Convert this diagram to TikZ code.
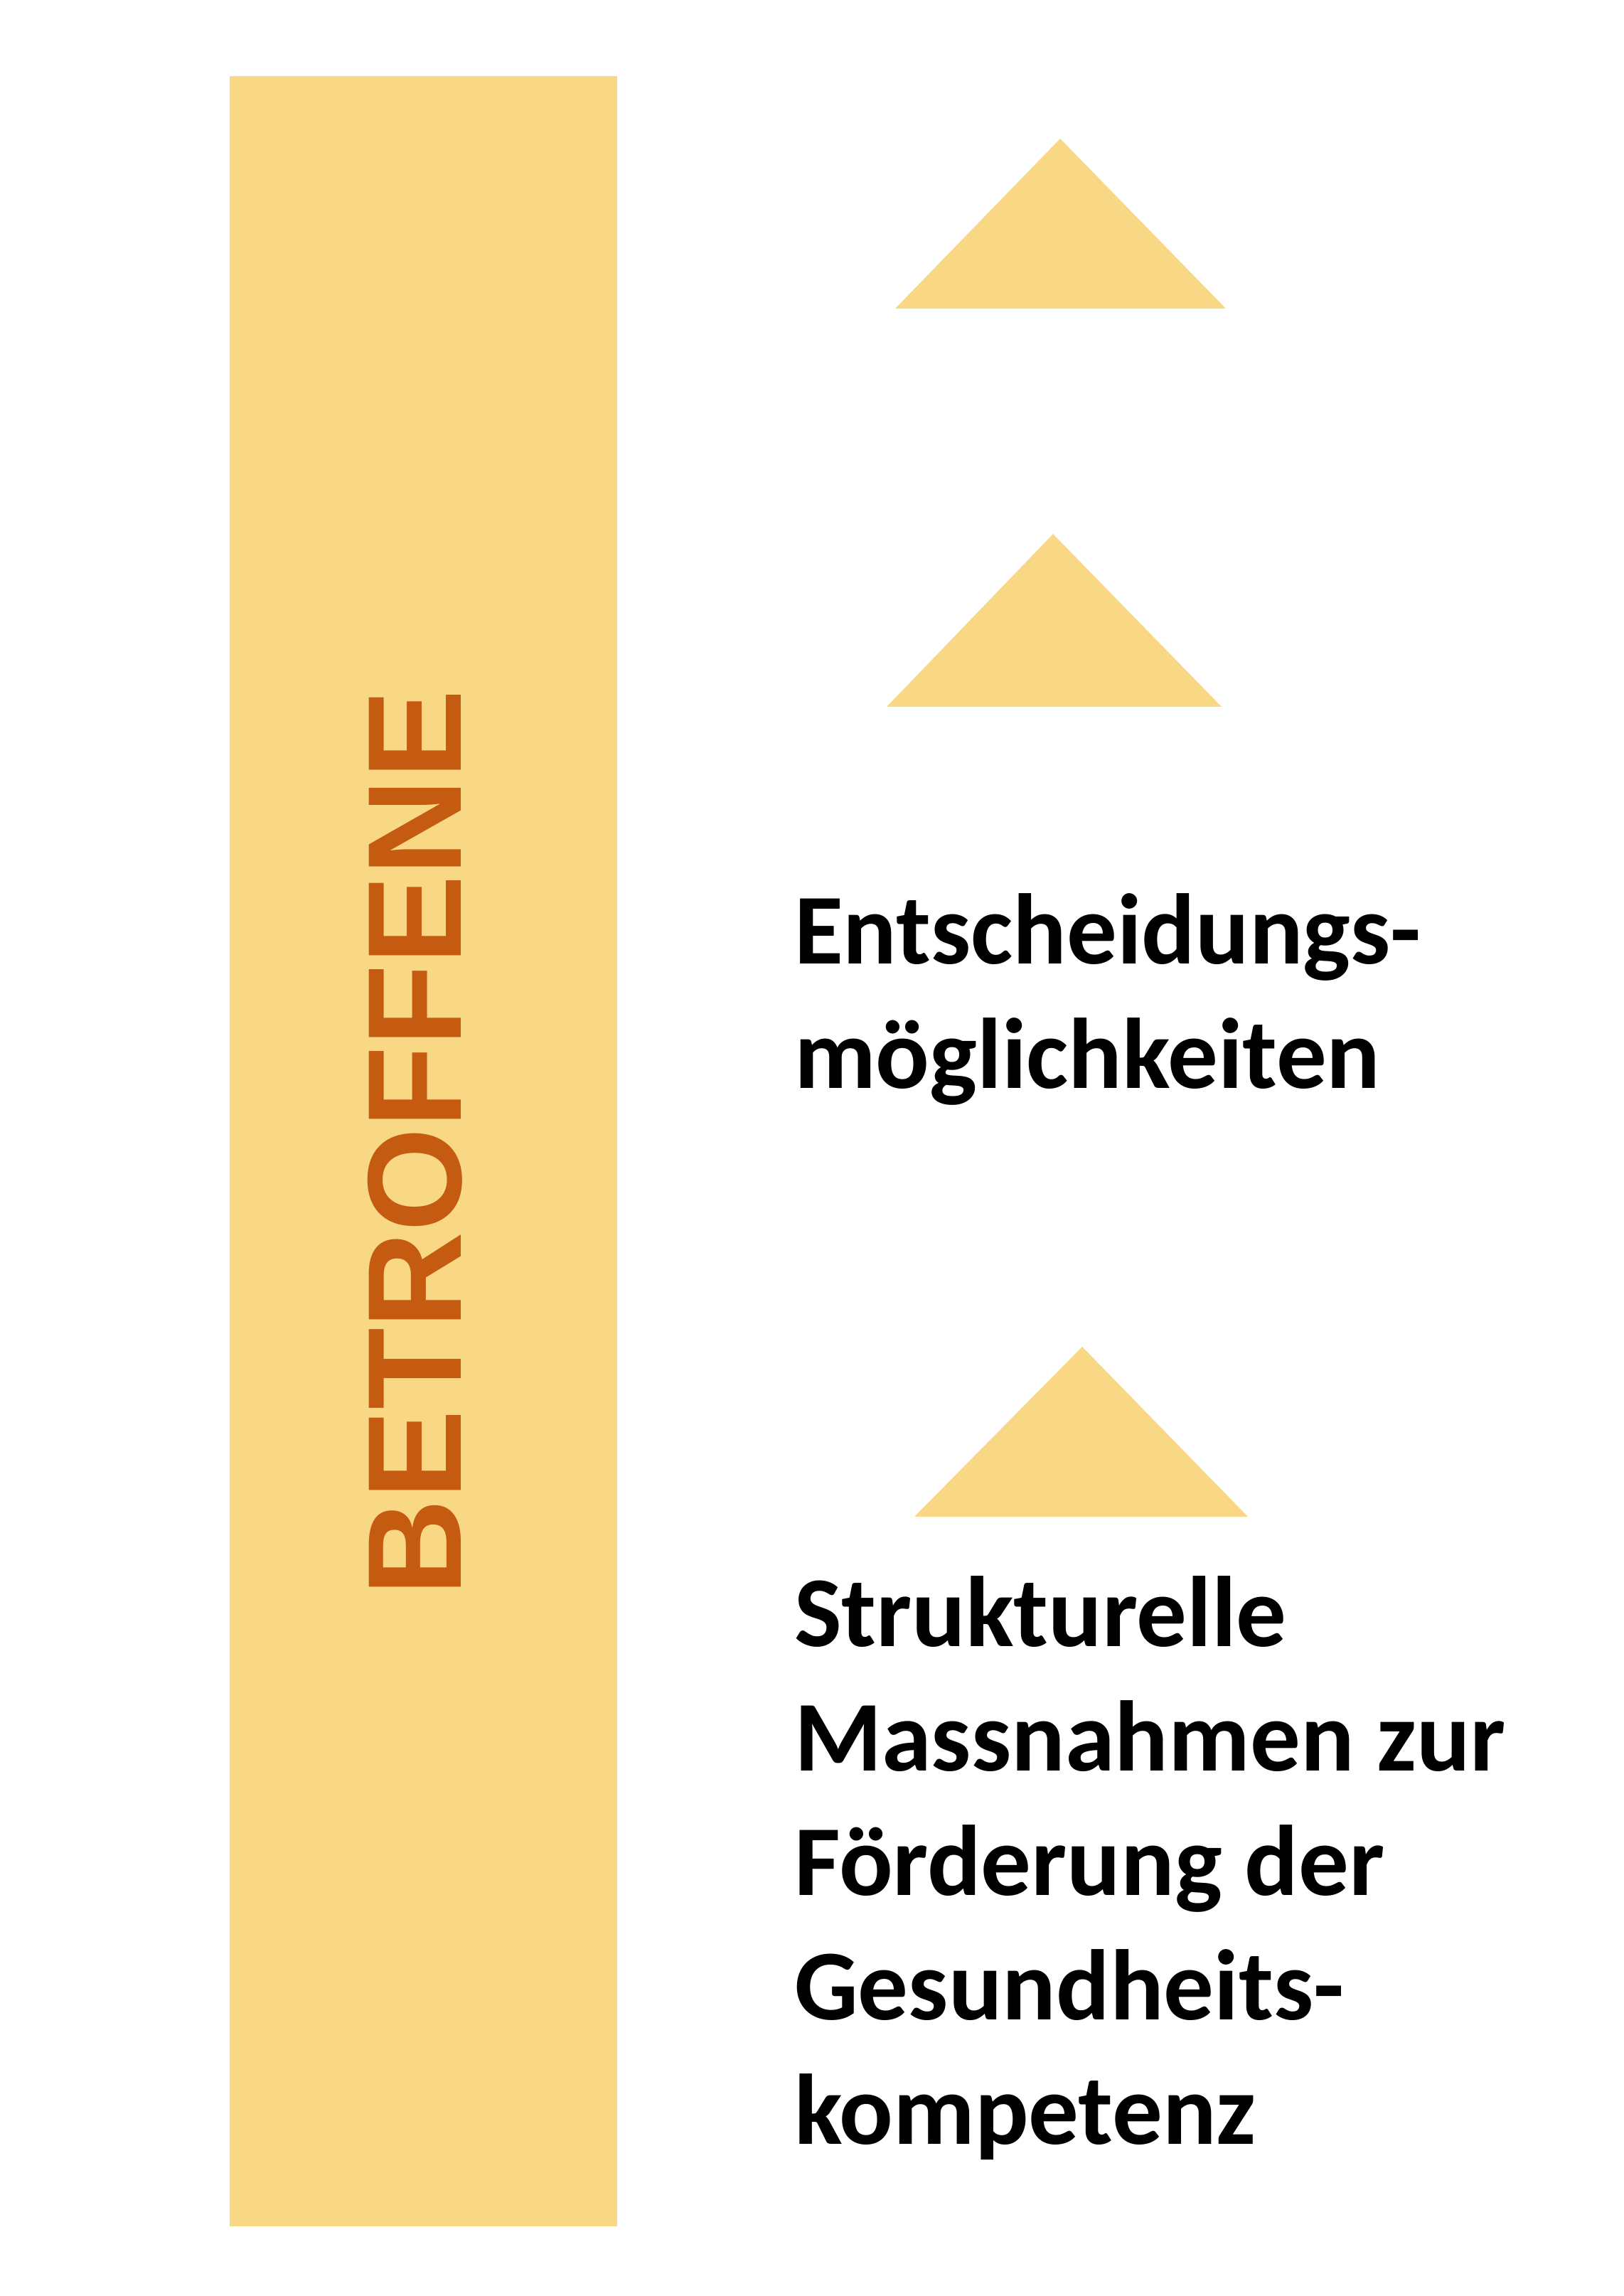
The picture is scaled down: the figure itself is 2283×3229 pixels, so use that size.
\documentclass[tikz,border=0pt]{standalone}
\usepackage{fontspec}
\setmainfont{Carlito}
\newfontfamily\kopffont{Liberation Sans}
\definecolor{balkengelb}{HTML}{F9D885}
\definecolor{kopfbraun}{HTML}{C55A11}
\begin{document}
\begin{tikzpicture}[x=0.1pt,y=-0.1pt,%
                    balken/.style={fill=balkengelb,draw=none},
                    dreieck/.style={fill=balkengelb,draw=none},
                    stufe/.style={anchor=north west,inner sep=0,align=left,font=\fontsize{14.1pt}{17.5pt}\selectfont\bfseries},
        ]
        \useasboundingbox (0,0) rectangle (2283,3229);
        \fill[balken] (323,107) rectangle (868,3131);
        \node[rotate=90,inner sep=0,text=kopfbraun,font=\kopffont\fontsize{18.8pt}{18.8pt}\selectfont\bfseries] (betroffene) at (584,1607) {BETROFFENE};
%
        \fill[dreieck] (1259,434) -- (1491,195) -- (1724,434) -- cycle;
        \fill[dreieck] (1247,994) -- (1481,751) -- (1718,994) -- cycle;
        \fill[dreieck] (1286,2133) -- (1522,1894) -- (1755,2133) -- cycle;
%
        \node[stufe] (entscheidung) at (1115,1255) {Entscheidungs-\\möglichkeiten};
        \node[stufe] (massnahmen) at (1115,2215) {Strukturelle\\Massnahmen zur\\Förderung der\\Gesundheits-\\kompetenz};
    \end{tikzpicture}
\end{document}
